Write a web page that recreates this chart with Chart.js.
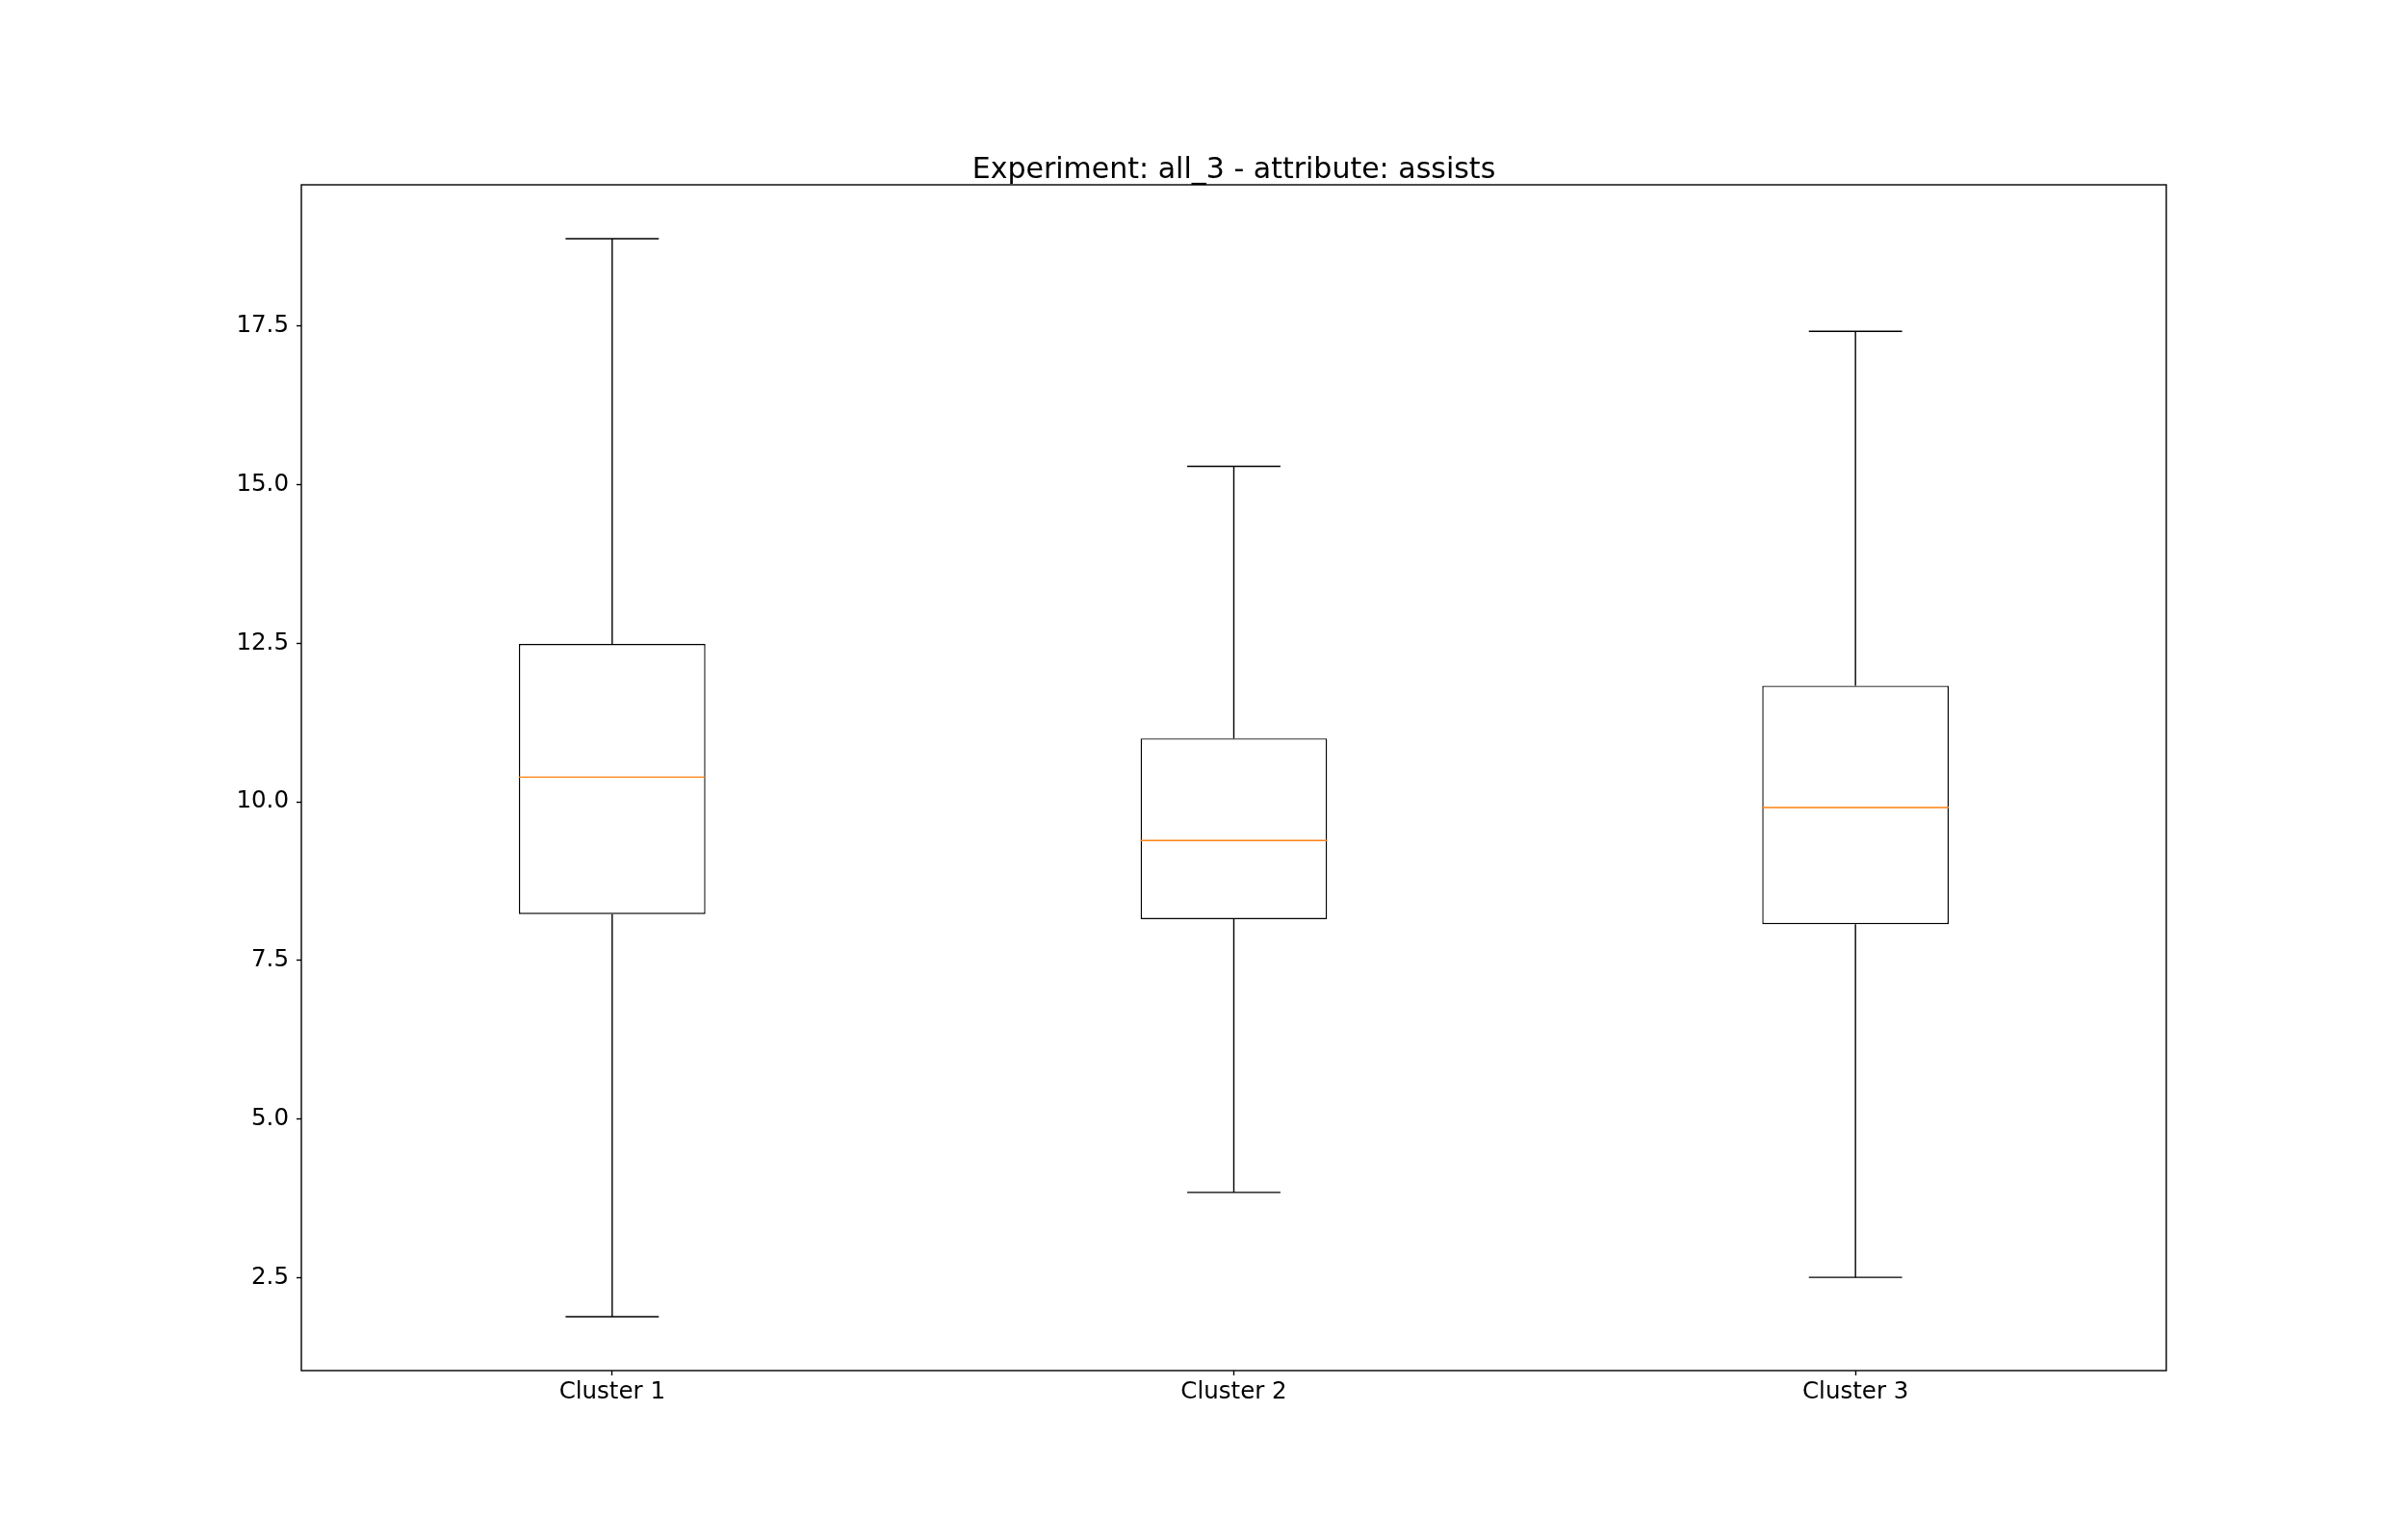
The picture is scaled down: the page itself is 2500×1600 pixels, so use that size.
<!DOCTYPE html>
<html>
<head>
<meta charset="utf-8">
<script src="https://cdn.jsdelivr.net/npm/chart.js@4/dist/chart.umd.min.js"></script>
<style>
  html, body { margin: 0; padding: 0; background: #ffffff; }
  #wrap { width: 2500px; height: 1600px; }
</style>
</head>
<body>
<div id="wrap"><canvas id="c" width="2500" height="1600"></canvas></div>
<script>
const categories = ["Cluster 1", "Cluster 2", "Cluster 3"];
const whiskerLow  = [1.88, 3.84, 2.50];
const q1Values    = [8.23, 8.15, 8.07];
const medianValues= [10.39, 9.39, 9.91];
const q3Values    = [12.49, 11.00, 11.83];
const whiskerHigh = [18.88, 15.29, 17.42];
const yTickValues = [2.5, 5.0, 7.5, 10.0, 12.5, 15.0, 17.5];
const yMin = 1.03, yMax = 19.73;
const titleText = "Experiment: all_3 - attribute: assists";

const FONT = "'DejaVu Sans', sans-serif";
const LW = 1.4;

const boxPlugin = {
  id: 'boxExtras',
  afterDatasetsDraw(chart) {
    const ctx = chart.ctx;
    const xs = chart.scales.x, ys = chart.scales.y;
    const meta = chart.getDatasetMeta(0);
    ctx.save();
    ctx.lineWidth = LW;
    for (let i = 0; i < categories.length; i++) {
      const cx = xs.getPixelForValue(i);
      const w = meta.data[i].width;
      const capHalf = w / 4;
      const yLo = ys.getPixelForValue(whiskerLow[i]);
      const yHi = ys.getPixelForValue(whiskerHigh[i]);
      const yQ1 = ys.getPixelForValue(q1Values[i]);
      const yQ3 = ys.getPixelForValue(q3Values[i]);
      const yMed = ys.getPixelForValue(medianValues[i]);
      ctx.strokeStyle = '#000000';
      ctx.beginPath();
      ctx.moveTo(cx, yQ3); ctx.lineTo(cx, yHi);
      ctx.moveTo(cx, yQ1); ctx.lineTo(cx, yLo);
      ctx.moveTo(cx - capHalf, yHi); ctx.lineTo(cx + capHalf, yHi);
      ctx.moveTo(cx - capHalf, yLo); ctx.lineTo(cx + capHalf, yLo);
      ctx.stroke();
      ctx.strokeStyle = '#ff7f0e';
      ctx.beginPath();
      ctx.moveTo(cx - w / 2, yMed); ctx.lineTo(cx + w / 2, yMed);
      ctx.stroke();
    }
    const a = chart.chartArea;
    ctx.strokeStyle = '#000000';
    ctx.lineWidth = LW;
    ctx.strokeRect(a.left, a.top, a.right - a.left, a.bottom - a.top);
    ctx.restore();
  }
};

new Chart(document.getElementById('c'), {
  type: 'bar',
  data: {
    labels: categories,
    datasets: [{
      data: categories.map((_, i) => [q1Values[i], q3Values[i]]),
      backgroundColor: '#ffffff',
      borderColor: '#000000',
      borderWidth: LW,
      borderSkipped: false,
      barPercentage: 0.3,
      categoryPercentage: 1.0
    }]
  },
  options: {
    responsive: false,
    devicePixelRatio: 1,
    animation: false,
    layout: { padding: { left: 0, right: 250, top: 162, bottom: 0 } },
    plugins: {
      legend: { display: false },
      tooltip: { enabled: false },
      title: {
        display: true,
        fullSize: false,
        text: titleText,
        color: '#000000',
        font: { family: FONT, size: 30, weight: 'normal', lineHeight: 1.0 },
        padding: { top: 0, bottom: 0 }
      }
    },
    scales: {
      x: {
        offset: true,
        grid: { display: true, drawOnChartArea: false, drawTicks: true, tickLength: 5, tickColor: '#000000', tickWidth: LW, offset: false },
        border: { display: false },
        ticks: { color: '#000000', font: { family: FONT, size: 24.5 }, padding: 3, maxRotation: 0 },
        afterFit(scale) { scale.height = 176; }
      },
      y: {
        min: yMin,
        max: yMax,
        grid: { display: true, drawOnChartArea: false, drawTicks: true, tickLength: 5, tickColor: '#000000', tickWidth: LW },
        border: { display: false },
        ticks: {
          color: '#000000',
          font: { family: FONT, size: 24.5 },
          padding: 8,
          callback: (v) => Number(v).toFixed(1)
        },
        afterBuildTicks(scale) { scale.ticks = yTickValues.map(v => ({ value: v })); },
        afterFit(scale) { scale.width = 313; }
      }
    }
  },
  plugins: [boxPlugin]
});
</script>
</body>
</html>
